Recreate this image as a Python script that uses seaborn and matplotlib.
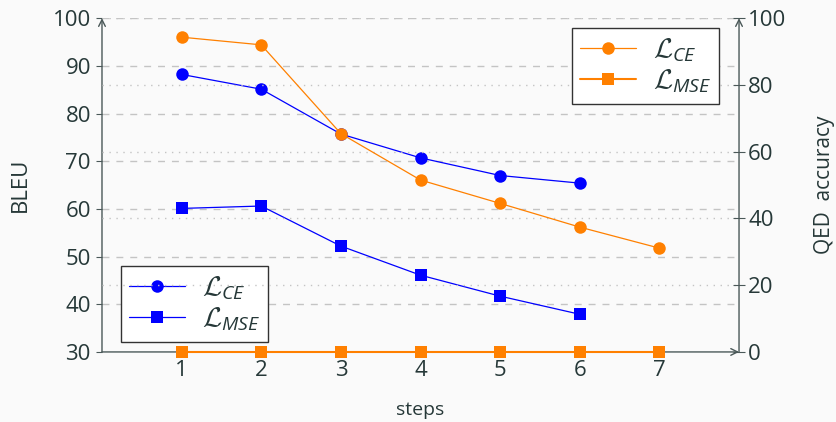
import matplotlib
matplotlib.use("Agg")
import matplotlib.pyplot as plt
import seaborn as sns
import pandas as pd

steps = [1, 2, 3, 4, 5, 6, 7]
bleu_ce = [88.2, 85.1, 75.7, 70.7, 67.0, 65.4]
bleu_mse = [60.1, 60.6, 52.2, 46.1, 41.7, 37.9]
qed_ce = [94.3, 92.0, 65.4, 51.5, 44.5, 37.4, 31.1]
qed_mse = [0, 0, 0, 0, 0, 0, 0]

label_ce = r"$\mathcal{L}_{CE}$"
label_mse = r"$\mathcal{L}_{MSE}$"

text_col = "#263838"
spine_col = "#4a5858"
blue = "#0000ff"
orange = "#ff8000"

sns.set_style("white")
plt.rcParams["font.family"] = ["Open Sans", "DejaVu Sans"]
plt.rcParams["mathtext.fontset"] = "custom"
plt.rcParams["mathtext.cal"] = "cmsy10"
plt.rcParams["mathtext.it"] = "Open Sans:italic"
plt.rcParams["mathtext.rm"] = "Open Sans"
plt.rcParams["text.color"] = text_col
plt.rcParams["axes.labelcolor"] = text_col
plt.rcParams["xtick.color"] = text_col
plt.rcParams["ytick.color"] = text_col

fig = plt.figure(figsize=(8.36, 4.22), dpi=100, facecolor="#fafafa")
ax = fig.add_axes([0.122, 0.166, 0.762, 0.791])
ax.set_facecolor("#fafafa")
ax2 = ax.twinx()

df_ce = pd.DataFrame({"step": steps[:6], "v": bleu_ce})
df_mse = pd.DataFrame({"step": steps[:6], "v": bleu_mse})
df_qce = pd.DataFrame({"step": steps, "v": qed_ce})
df_qmse = pd.DataFrame({"step": steps, "v": qed_mse})

sns.lineplot(data=df_ce, x="step", y="v", ax=ax, color=blue, marker="o",
             markersize=9, markeredgewidth=0, linewidth=0.9, label=label_ce)
sns.lineplot(data=df_mse, x="step", y="v", ax=ax, color=blue, marker="s",
             markersize=8.5, markeredgewidth=0, linewidth=0.9, label=label_mse)
sns.lineplot(data=df_qce, x="step", y="v", ax=ax2, color=orange, marker="o",
             markersize=9, markeredgewidth=0, linewidth=0.9, label=label_ce)
sns.lineplot(data=df_qmse, x="step", y="v", ax=ax2, color=orange, marker="s",
             markersize=8.5, markeredgewidth=0, linewidth=1.5, label=label_mse,
             clip_on=False, zorder=5)

ax.set_xlim(0, 8)
ax.set_ylim(30, 100)
ax2.set_ylim(0, 100)
ax.set_xticks(steps)
ax.set_yticks(range(30, 101, 10))
ax2.set_yticks(range(0, 101, 20))

# grid: dashed for BLEU ticks, dotted for QED ticks
for v in range(40, 101, 10):
    ax.axhline(v, color="#c4c4c4", lw=1, dashes=(5, 5), zorder=0)
for v in range(20, 101, 20):
    ax2.axhline(v, color="#c4c4c4", lw=1, dashes=(1, 4), zorder=0)

for a in (ax, ax2):
    for s in a.spines.values():
        s.set_visible(False)
    a.set_xlabel("")
    a.set_ylabel("")

ax.tick_params(axis="x", length=0, labelsize=16, pad=6)
ax.tick_params(axis="y", length=4, width=0.8, color=spine_col, labelsize=16, pad=4)
ax2.tick_params(axis="y", direction="inout", length=9, width=0.8, color=spine_col,
                labelsize=16, pad=2)

ax.set_xlabel("steps", fontsize=14, labelpad=14)
ax.set_ylabel("BLEU", fontsize=16, labelpad=16)
ax2.set_ylabel("QED  accuracy", fontsize=15, labelpad=20)

# axis lines with arrow heads
arrow = dict(arrowstyle="->", color=spine_col, lw=1, shrinkA=0, shrinkB=0,
             mutation_scale=12)
ax.annotate("", xy=(0, 1), xytext=(0, 0), xycoords="axes fraction", arrowprops=arrow)
ax.annotate("", xy=(1, 1), xytext=(1, 0), xycoords="axes fraction", arrowprops=arrow)
ax.annotate("", xy=(1, 0), xytext=(0, 0), xycoords="axes fraction", arrowprops=arrow)

leg_kw = dict(fontsize=20, frameon=True, fancybox=False, edgecolor="#333333",
              framealpha=1, handlelength=2.0, borderpad=0.3, labelspacing=0.1,
              handletextpad=0.6, borderaxespad=0)
leg1 = ax.legend(loc="lower left", bbox_to_anchor=(0.03, 0.03), **leg_kw)
leg1.get_frame().set_linewidth(1)
leg2 = ax2.legend(loc="upper right", bbox_to_anchor=(0.969, 0.97), **leg_kw)
leg2.get_frame().set_linewidth(1)

fig.savefig("out.png", dpi=100, facecolor=fig.get_facecolor())
